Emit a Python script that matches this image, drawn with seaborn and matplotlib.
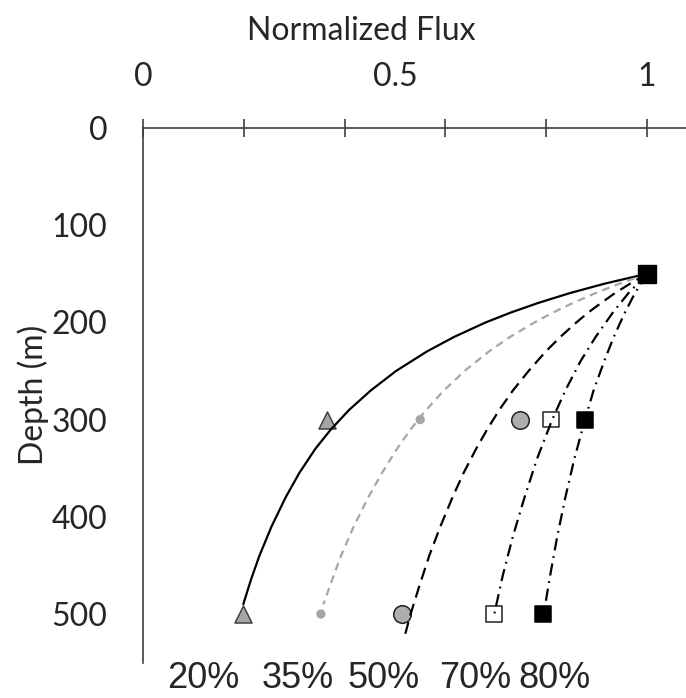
import matplotlib
matplotlib.use("Agg")
import matplotlib.pyplot as plt
import seaborn as sns
import pandas as pd
from matplotlib.ticker import FixedLocator, FuncFormatter

sns.set_style("white")
plt.rcParams["font.family"] = ["Lato", "DejaVu Sans"]

AXIS_GREY = "#404040"

# reference point (top of the profiles)
ref_depth = [150]
ref_flux = [1.0]

# observed points at 300 m and 500 m
obs_depth = [300, 500]
obs_20 = [0.365, 0.198]
obs_35 = [0.550, 0.353]
obs_50 = [0.748, 0.514]
obs_70 = [0.810, 0.696]
obs_80 = [0.877, 0.794]

# flux profiles
depth_20 = [150, 160, 170, 180, 190, 200, 215, 230, 250, 270, 290, 310, 330, 355, 380, 410, 440, 465, 490]
flux_20 = [1.0, 0.917, 0.846, 0.784, 0.729, 0.680, 0.617, 0.563, 0.502, 0.452, 0.409, 0.373, 0.342, 0.310, 0.283, 0.255, 0.231, 0.214, 0.199]

depth_35 = [150, 160, 170, 180, 190, 200, 215, 230, 250, 270, 290, 310, 330, 355, 380, 410, 440, 465, 490]
flux_35 = [1.0, 0.946, 0.897, 0.853, 0.813, 0.777, 0.728, 0.686, 0.638, 0.597, 0.562, 0.531, 0.504, 0.474, 0.447, 0.418, 0.393, 0.375, 0.358]

depth_50 = [150, 160, 170, 180, 190, 200, 215, 230, 250, 270, 290, 310, 330, 355, 380, 410, 440, 470, 500, 527]
flux_50 = [1.0, 0.967, 0.936, 0.909, 0.883, 0.860, 0.828, 0.799, 0.765, 0.734, 0.707, 0.683, 0.661, 0.636, 0.614, 0.590, 0.568, 0.549, 0.531, 0.517]

depth_70 = [150, 170, 190, 215, 240, 270, 300, 340, 380, 420, 460, 500]
flux_70 = [1.0, 0.963, 0.932, 0.898, 0.868, 0.838, 0.812, 0.782, 0.757, 0.734, 0.714, 0.697]

depth_80 = [150, 170, 190, 215, 240, 270, 300, 340, 380, 420, 460, 500]
flux_80 = [1.0, 0.976, 0.956, 0.934, 0.915, 0.894, 0.877, 0.856, 0.838, 0.822, 0.808, 0.795]

te_labels = ["20%", "35%", "50%", "70%", "80%"]
te_label_x = [0.119, 0.306, 0.478, 0.659, 0.817]

fig = plt.figure(figsize=(6.86, 6.98), dpi=100)
ax = fig.add_axes([143 / 686, 1 - 662.6 / 698, 543 / 686, 534.6 / 698])

# curves
dashdot = (0, (5.5, 2.6, 0.8, 2.6))
curves = [
    (depth_20, flux_20, "black", "-"),
    (depth_35, flux_35, "#a6a6a6", (0, (3.5, 2.5))),
    (depth_50, flux_50, "black", (0, (5.5, 3.0))),
    (depth_70, flux_70, "black", dashdot),
    (depth_80, flux_80, "black", dashdot),
]
for d, f, c, ls in curves:
    df = pd.DataFrame({"flux": f, "depth": d})
    sns.lineplot(data=df, x="flux", y="depth", sort=False, estimator=None,
                 color=c, linestyle=ls, lw=1.6, ax=ax, zorder=3)

# markers
marker_sets = [
    (obs_20, "^", 150, "#a6a6a6", AXIS_GREY),
    (obs_35, "o", 45, "#a6a6a6", "none"),
    (obs_50, "o", 160, "#b0adad", "#222222"),
    (obs_70, "s", 125, "none", "#222222"),
    (obs_80, "s", 125, "black", "black"),
]
for vals, m, s, fc, ec in marker_sets:
    sns.scatterplot(x=vals, y=obs_depth, marker=m, s=s, facecolor=fc,
                    edgecolor=ec, linewidth=1.1, ax=ax, zorder=2)
sns.scatterplot(x=ref_flux, y=ref_depth, marker="s", s=150, color="black",
                edgecolor="black", ax=ax, zorder=4)

ax.set_xlim(0, 543 / 504)
ax.set_ylim(550, 0)

for side in ["right", "bottom"]:
    ax.spines[side].set_visible(False)
for side in ["left", "top"]:
    ax.spines[side].set_color(AXIS_GREY)
    ax.spines[side].set_linewidth(1.2)

ax.xaxis.tick_top()
ax.xaxis.set_label_position("top")
ax.xaxis.remove_overlapping_locs = False
ax.xaxis.set_major_locator(FixedLocator([0, 0.2, 0.4, 0.6, 0.8, 1.0]))
ax.xaxis.set_major_formatter(FuncFormatter(lambda v, p: ""))
ax.xaxis.set_minor_locator(FixedLocator([0, 0.5, 1.0]))
ax.xaxis.set_minor_formatter(FuncFormatter(lambda v, p: "%g" % v))
ax.tick_params(axis="x", which="major", direction="inout", length=13,
               width=1.2, color=AXIS_GREY)
ax.tick_params(axis="x", which="minor", length=0, pad=26, labelsize=23,
               labeltop=True, labelbottom=False)

ax.yaxis.set_major_locator(FixedLocator(list(range(0, 551, 50))))
ax.yaxis.set_major_formatter(FuncFormatter(lambda v, p: "%d" % v if v % 100 == 0 and v < 550 else ""))
ax.tick_params(axis="y", which="major", direction="inout", length=13,
               width=1.2, color=AXIS_GREY, labelsize=23, pad=19)

ax.set_xlabel("Normalized Flux", fontsize=23, labelpad=16)
ax.xaxis.label.set_x(0.402)
ax.set_ylabel("Depth (m)", fontsize=23, labelpad=2)
ax.grid(False)

for x, t in zip(te_label_x, te_labels):
    ax.text(x, 576, t, ha="center", va="baseline", fontsize=26,
            family=["Liberation Sans", "DejaVu Sans"], clip_on=False)

fig.savefig("out.png", dpi=100)
